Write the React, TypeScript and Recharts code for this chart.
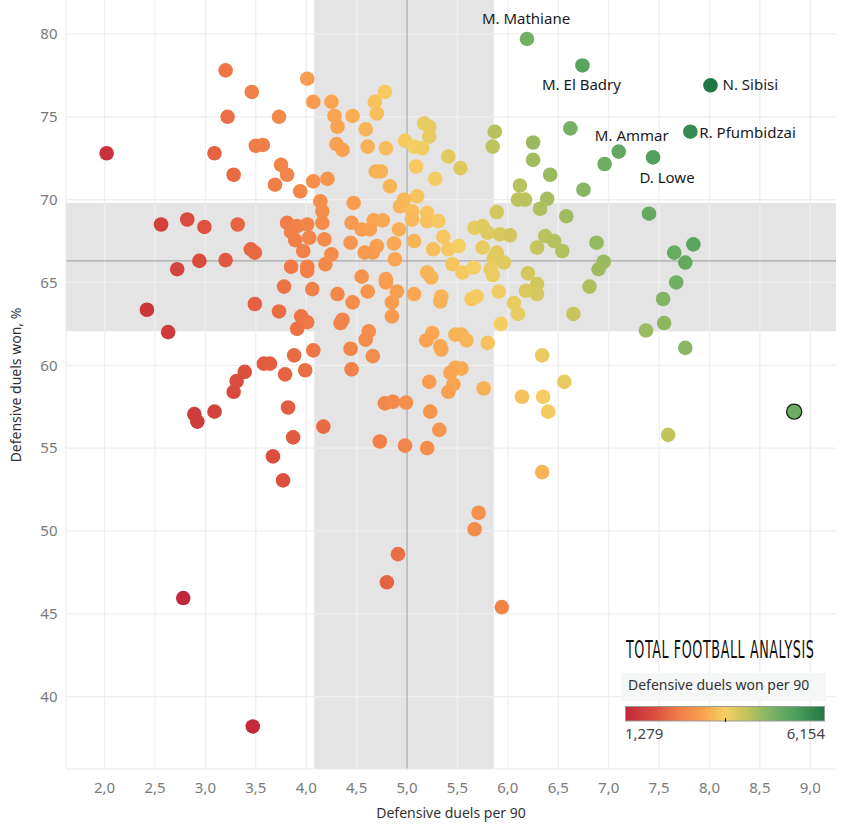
import { ScatterChart, Scatter, XAxis, YAxis, ReferenceArea, ReferenceLine } from 'recharts'

// defensive duels per 90 (x) and defensive duels won % (y)
const duelsPer90 = [
  3.20, 3.46, 3.22, 3.73, 4.01, 4.07, 2.02, 3.09, 3.50, 3.57, 3.28, 3.75, 3.81, 3.69, 3.94, 4.07, 4.21, 4.14, 4.16, 4.16,
  2.56, 2.82, 2.99, 3.32, 3.81, 3.91, 4.01, 3.85, 3.89, 4.03, 3.97, 4.18, 3.45, 3.49, 2.72, 2.94, 3.20, 2.42, 2.63, 3.85,
  4.01, 4.01, 4.19, 3.78, 4.06, 3.49, 3.73, 3.95, 4.01, 3.91, 3.88, 4.07, 3.58, 3.64, 3.79, 3.99, 3.39, 3.31, 3.28, 2.89,
  2.92, 3.09, 3.82, 4.17, 3.87, 3.67, 3.77, 2.78, 3.47, 4.78, 4.68, 4.70, 4.25, 4.28, 4.31, 4.46, 4.59, 4.30, 4.36, 4.61,
  4.79, 5.17, 5.22, 5.22, 4.98, 5.07, 5.15, 5.41, 5.53, 5.09, 5.28, 4.69, 4.74, 4.83, 5.10, 5.87, 5.85, 6.25, 6.25, 6.42,
  6.62, 6.75, 6.12, 6.10, 6.17, 6.39, 6.32, 6.58, 5.89, 4.47, 4.97, 4.93, 5.05, 5.05, 5.20, 5.20, 5.31, 4.92, 4.67, 4.76,
  4.45, 4.55, 4.63, 4.44, 4.70, 4.66, 4.87, 5.07, 5.26, 5.36, 5.41, 5.51, 5.67, 5.75, 5.80, 5.92, 6.02, 5.75, 6.29, 6.37,
  6.46, 6.54, 5.89, 5.86, 5.96, 4.88, 4.58, 4.25, 4.55, 4.79, 4.79, 5.20, 5.24, 5.45, 5.55, 5.66, 5.83, 5.85, 6.20, 6.29,
  6.18, 6.29, 6.81, 4.31, 4.61, 4.90, 5.07, 5.34, 5.33, 5.64, 5.69, 5.91, 4.46, 4.85, 4.85, 6.06, 6.10, 6.65, 5.93, 4.36,
  4.34, 4.62, 4.59, 5.25, 5.19, 5.33, 5.34, 5.48, 5.54, 5.59, 5.80, 4.44, 4.66, 4.45, 6.34, 6.56, 5.48, 5.54, 5.43, 5.46,
  5.41, 5.22, 5.76, 6.14, 6.35, 6.40, 4.78, 4.86, 4.99, 5.23, 5.32, 4.73, 4.98, 5.20, 6.34, 5.71, 5.67, 4.91, 4.80, 5.94,
  6.96, 7.40, 6.88, 7.65, 7.76, 7.84, 6.95, 6.90, 7.67, 7.54, 7.55, 7.37, 7.76, 7.59,
]
const duelsWonPct = [
  77.8, 76.5, 75.0, 75.0, 77.3, 75.9, 72.8, 72.8, 73.25, 73.3, 71.5, 72.1, 71.5, 70.9, 70.5, 71.1, 71.25, 69.9, 69.3, 68.6,
  68.5, 68.8, 68.35, 68.5, 68.6, 68.4, 68.5, 68.05, 67.55, 67.7, 66.9, 67.6, 67.0, 66.8, 65.8, 66.3, 66.35, 63.35, 62.0, 65.95,
  65.95, 65.7, 66.1, 64.75, 64.6, 63.7, 63.25, 62.95, 62.6, 62.2, 60.6, 60.9, 60.1, 60.1, 59.45, 59.7, 59.6, 59.05, 58.4, 57.05,
  56.6, 57.2, 57.45, 56.3, 55.65, 54.5, 53.05, 45.95, 38.2, 76.5, 75.9, 75.2, 75.9, 75.05, 74.4, 75.05, 74.25, 73.35, 73.0, 73.2,
  73.1, 74.6, 74.4, 73.8, 73.55, 73.2, 73.1, 72.6, 71.9, 72.0, 71.25, 71.7, 71.7, 70.8, 70.2, 74.1, 73.2, 73.45, 72.4, 71.5,
  74.3, 70.6, 70.85, 70.0, 70.0, 70.05, 69.45, 69.0, 69.25, 69.8, 70.0, 69.6, 69.3, 68.8, 69.2, 68.7, 68.7, 68.2, 68.75, 68.75,
  68.6, 68.2, 68.2, 67.4, 67.2, 66.8, 67.35, 67.5, 67.0, 67.75, 67.0, 67.2, 68.3, 68.4, 68.0, 67.9, 67.85, 67.1, 67.1, 67.8,
  67.5, 66.9, 66.8, 66.45, 66.2, 66.4, 66.8, 66.7, 65.35, 65.2, 65.0, 65.6, 65.3, 66.1, 65.6, 65.9, 65.8, 65.45, 65.55, 64.9,
  64.5, 64.3, 64.75, 64.3, 64.45, 64.45, 64.3, 64.15, 63.85, 64.0, 64.15, 64.45, 63.8, 63.8, 62.95, 63.75, 63.1, 63.1, 62.5, 62.75,
  62.55, 62.05, 61.55, 61.95, 61.5, 61.15, 60.95, 61.85, 61.85, 61.5, 61.35, 61.0, 60.55, 59.75, 60.6, 59.0, 59.85, 59.8, 59.55, 58.85,
  58.4, 59.0, 58.6, 58.1, 58.1, 57.2, 57.7, 57.8, 57.75, 57.2, 56.1, 55.4, 55.15, 55.0, 53.55, 51.1, 50.1, 48.6, 46.9, 45.4,
  72.15, 69.15, 67.4, 66.8, 66.2, 67.3, 66.25, 65.8, 65.0, 64.0, 62.55, 62.1, 61.05, 55.8,
]

// labelled players
const labelNames = ['M. Mathiane', 'M. El Badry', 'N. Sibisi', 'R. Pfumbidzai', 'M. Ammar', 'D. Lowe']
const labelX = [6.19, 6.74, 8.01, 7.81, 7.10, 7.44]
const labelY = [79.7, 78.1, 76.9, 74.1, 72.9, 72.55]

// selected (outlined) player
const selectedX = [8.84]
const selectedY = [57.2]

const xTicks = [2, 2.5, 3, 3.5, 4, 4.5, 5, 5.5, 6, 6.5, 7, 7.5, 8, 8.5, 9]
const yTicks = [40, 45, 50, 55, 60, 65, 70, 75, 80]

const avgDuels = 5.0
const avgWonPct = 66.3
const duelsBand = [4.08, 5.86]
const wonPctBand = [62.05, 69.8]

const colorMin = 1.279
const colorMax = 6.154

const colorStops: [number, string][] = [
  [0, '#c2283c'],
  [0.15, '#dc4f3e'],
  [0.25, '#ee7746'],
  [0.4, '#faa451'],
  [0.5, '#f5cf63'],
  [0.6, '#c6c55c'],
  [0.75, '#74b063'],
  [0.86, '#4c9d5c'],
  [1, '#217743'],
]

const hex = (h: string) => [1, 3, 5].map((i) => parseInt(h.slice(i, i + 2), 16))

function colorFor(v: number) {
  const t = Math.max(0, Math.min(1, (v - colorMin) / (colorMax - colorMin)))
  for (let i = 1; i < colorStops.length; i++) {
    const [t1, c1] = colorStops[i]
    const [t0, c0] = colorStops[i - 1]
    if (t <= t1) {
      const f = (t - t0) / (t1 - t0)
      const a = hex(c0)
      const b = hex(c1)
      return `rgb(${a.map((x, k) => Math.round(x + (b[k] - x) * f)).join(',')})`
    }
  }
  return colorStops[colorStops.length - 1][1]
}

const labelPos: Record<string, { dx: number; dy: number; anchor: 'start' | 'middle' | 'end' }> = {
  'M. Mathiane': { dx: -1, dy: -15, anchor: 'middle' },
  'M. El Badry': { dx: -1, dy: 25, anchor: 'middle' },
  'N. Sibisi': { dx: 12, dy: 5, anchor: 'start' },
  'R. Pfumbidzai': { dx: 9, dy: 6, anchor: 'start' },
  'M. Ammar': { dx: 13, dy: -11, anchor: 'middle' },
  'D. Lowe': { dx: 14, dy: 26, anchor: 'middle' },
}

const points = duelsPer90.map((x, i) => ({ x, y: duelsWonPct[i], won: (x * duelsWonPct[i]) / 100 }))
const named = labelNames.map((name, i) => ({ name, x: labelX[i], y: labelY[i], won: (labelX[i] * labelY[i]) / 100 }))
const selected = selectedX.map((x, i) => ({ x, y: selectedY[i], won: (x * selectedY[i]) / 100 }))

const FONT = '"Noto Sans", "DejaVu Sans", sans-serif'
const R = 7.3

const PlainDot = (props: any) => {
  const { cx, cy, payload } = props
  return <circle cx={cx} cy={cy} r={R} fill={colorFor(payload.won)} />
}

const SelectedDot = (props: any) => {
  const { cx, cy, payload } = props
  return <circle cx={cx} cy={cy} r={R + 0.3} fill={colorFor(payload.won)} stroke="#1a1a1a" strokeWidth={1.2} />
}

const NamedDot = (props: any) => {
  const { cx, cy, payload } = props
  const p = labelPos[payload.name]
  return (
    <g>
      <circle cx={cx} cy={cy} r={R} fill={colorFor(payload.won)} />
      <text x={cx + p.dx} y={cy + p.dy} textAnchor={p.anchor} fontSize={15} fontFamily={FONT} fill="#1b1b1b">
        {payload.name}
      </text>
    </g>
  )
}

const fmtX = (v: number) => v.toFixed(1).replace('.', ',')

function Overlay() {
  return (
    <svg width={850} height={833} style={{ position: 'absolute', left: 0, top: 0, pointerEvents: 'none' }}>
      <defs>
        <linearGradient id="legendGrad" x1="0" x2="1" y1="0" y2="0">
          {colorStops.map(([t, c]) => (
            <stop key={t} offset={t} stopColor={c} />
          ))}
        </linearGradient>
      </defs>
      {/* axis titles */}
      <text x={451} y={818} textAnchor="middle" fontSize={14} fontFamily={FONT} fill="#333">
        Defensive duels per 90
      </text>
      <text
        x={0}
        y={0}
        transform="translate(21, 385) rotate(-90)"
        textAnchor="middle"
        fontSize={14}
        fontFamily={FONT}
        fill="#333"
      >
        Defensive duels won, %
      </text>
      {/* logo */}
      <g transform="translate(626, 658) scale(0.59, 1)">
        <text
          x={0}
          y={0}
          fontSize={24}
          fontFamily='"DejaVu Sans Condensed", "DejaVu Sans", sans-serif'
          fill="#111"
          letterSpacing={1}
        >
          TOTAL FOOTBALL ANALYSIS
        </text>
      </g>
      {/* legend */}
      <rect x={621} y={673} width={205} height={28} fill="#f5f6f6" />
      <text x={628} y={690} fontSize={14} fontFamily={FONT} fill="#333">
        Defensive duels won per 90
      </text>
      <rect x={625.5} y={706.5} width={199} height={14.5} fill="url(#legendGrad)" stroke="#999" strokeWidth={1} />
      <line x1={725.5} x2={725.5} y1={718} y2={722} stroke="#111" strokeWidth={1} />
      <text x={625} y={739} fontSize={15} fontFamily={FONT} fill="#444">
        {colorMin.toFixed(3).replace('.', ',')}
      </text>
      <text x={825} y={739} textAnchor="end" fontSize={15} fontFamily={FONT} fill="#444">
        {colorMax.toFixed(3).replace('.', ',')}
      </text>
    </svg>
  )
}

export default function App() {
  return (
    <div style={{ position: 'absolute', left: 0, top: 0, width: 850, height: 833, background: '#fff' }}>
      <ScatterChart width={850} height={833} margin={{ top: 0, right: 14, bottom: 0, left: 0 }}>
        <XAxis
          type="number"
          dataKey="x"
          domain={[1.617, 9.255]}
          ticks={xTicks}
          tickFormatter={fmtX}
          allowDataOverflow
          height={64}
          tickLine={false}
          tickMargin={7}
          axisLine={{ stroke: '#e9e9e9' }}
          tick={{ fill: '#7a7a7a', fontSize: 15, fontFamily: FONT }}
        />
        <YAxis
          type="number"
          dataKey="y"
          domain={[35.63, 82.05]}
          ticks={yTicks}
          allowDataOverflow
          width={66}
          tickLine={false}
          tickMargin={2.5}
          axisLine={{ stroke: '#e9e9e9' }}
          tick={{ fill: '#7a7a7a', fontSize: 15, fontFamily: FONT }}
        />
        <ReferenceArea x1={duelsBand[0]} x2={duelsBand[1]} fill="#e4e4e4" fillOpacity={1} stroke="none" />
        <ReferenceArea y1={wonPctBand[0]} y2={wonPctBand[1]} fill="#e4e4e4" fillOpacity={1} stroke="none" />
        {xTicks.map((t) => (
          <ReferenceLine key={'gx' + t} x={t} stroke="#efefef" strokeWidth={1.3} />
        ))}
        {yTicks.map((t) => (
          <ReferenceLine key={'gy' + t} y={t} stroke="#efefef" strokeWidth={1.3} />
        ))}
        <ReferenceLine x={avgDuels} stroke="#9a9a9a" strokeWidth={1} />
        <ReferenceLine y={avgWonPct} stroke="#9a9a9a" strokeWidth={1} />
        <Scatter data={points} shape={PlainDot} isAnimationActive={false} />
        <Scatter data={selected} shape={SelectedDot} isAnimationActive={false} />
        <Scatter data={named} shape={NamedDot} isAnimationActive={false} />
      </ScatterChart>
      <Overlay />
    </div>
  )
}
